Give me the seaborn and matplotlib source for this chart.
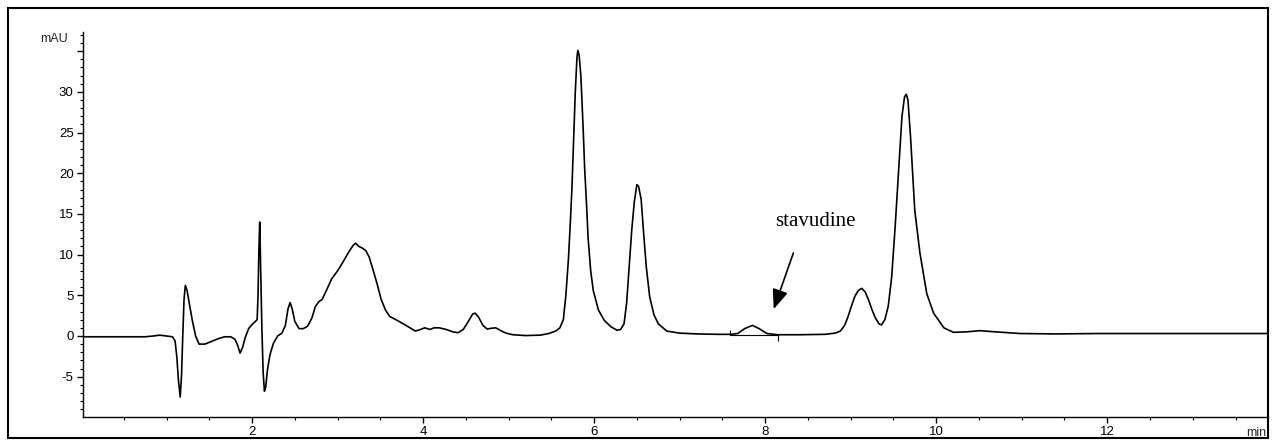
import matplotlib
matplotlib.use("Agg")
import numpy as np
import pandas as pd
import seaborn as sns
import matplotlib.pyplot as plt
from matplotlib.ticker import MultipleLocator
from matplotlib.patches import Rectangle

# ---------------- data ----------------
time_min = [
    0.03, 0.40, 0.75, 0.85, 0.92, 1.00, 1.07, 1.10, 1.12, 1.14,
    1.16, 1.175, 1.19, 1.205, 1.22, 1.24, 1.27, 1.30, 1.34, 1.38,
    1.45, 1.52, 1.60, 1.68, 1.75, 1.80, 1.83, 1.86, 1.89, 1.92,
    1.96, 2.00, 2.04, 2.06, 2.07, 2.08, 2.09, 2.10, 2.115, 2.13,
    2.145, 2.16, 2.18, 2.21, 2.25, 2.30, 2.35, 2.39, 2.42, 2.445,
    2.47, 2.50, 2.55, 2.60, 2.65, 2.70, 2.74, 2.78, 2.82, 2.87,
    2.93, 3.00, 3.07, 3.13, 3.18, 3.21, 3.25, 3.29, 3.33, 3.37,
    3.41, 3.46, 3.51, 3.56, 3.61, 3.70, 3.80, 3.91, 3.97, 4.02,
    4.08, 4.13, 4.19, 4.27, 4.35, 4.41, 4.47, 4.53, 4.58, 4.61,
    4.65, 4.70, 4.75, 4.80, 4.85, 4.90, 4.97, 5.05, 5.20, 5.37,
    5.47, 5.55, 5.60, 5.64, 5.67, 5.70, 5.72, 5.74, 5.76, 5.78,
    5.80, 5.81, 5.825, 5.845, 5.87, 5.89, 5.91, 5.93, 5.96, 5.99,
    6.05, 6.12, 6.20, 6.27, 6.31, 6.35, 6.38, 6.41, 6.44, 6.47,
    6.50, 6.52, 6.55, 6.58, 6.61, 6.65, 6.70, 6.75, 6.85, 7.00,
    7.20, 7.45, 7.60, 7.68, 7.76, 7.85, 7.93, 8.02, 8.15, 8.40,
    8.70, 8.82, 8.88, 8.93, 8.97, 9.01, 9.05, 9.09, 9.13, 9.17,
    9.21, 9.25, 9.29, 9.33, 9.36, 9.40, 9.44, 9.48, 9.52, 9.56,
    9.60, 9.63, 9.65, 9.67, 9.70, 9.75, 9.81, 9.89, 9.97, 10.09,
    10.20, 10.35, 10.51, 10.70, 10.98, 11.40, 11.90, 12.40, 12.90, 13.40,
    13.88,
]
absorbance_mau = [
    -0.1, -0.1, -0.1, 0.0, 0.1, 0.0, -0.1, -0.6, -2.5, -5.5,
    -7.5, -5.0, 0.0, 4.5, 6.2, 5.6, 3.8, 2.0, 0.0, -1.0,
    -1.0, -0.7, -0.35, -0.1, -0.1, -0.4, -1.1, -2.1, -1.4, -0.2,
    0.9, 1.4, 1.8, 2.0, 5.0, 10.5, 14.0, 9.0, 1.0, -4.5,
    -6.8, -6.3, -4.2, -2.3, -0.9, 0.0, 0.35, 1.3, 3.3, 4.1,
    3.3, 1.8, 0.9, 0.9, 1.2, 2.2, 3.6, 4.2, 4.5, 5.6,
    7.0, 8.0, 9.2, 10.3, 11.1, 11.4, 11.0, 10.8, 10.5, 9.7,
    8.3, 6.5, 4.5, 3.2, 2.4, 1.9, 1.3, 0.6, 0.8, 1.0,
    0.8, 1.0, 1.0, 0.8, 0.5, 0.4, 0.8, 1.8, 2.7, 2.8,
    2.3, 1.3, 0.85, 0.95, 1.0, 0.7, 0.35, 0.15, 0.05, 0.1,
    0.3, 0.6, 1.0, 2.0, 5.0, 9.5, 13.5, 18.0, 24.0, 30.0,
    34.3, 35.1, 34.5, 32.0, 26.0, 20.5, 16.5, 12.0, 8.0, 5.6,
    3.2, 1.9, 1.1, 0.7, 0.8, 1.5, 4.0, 8.5, 13.0, 16.5,
    18.6, 18.4, 16.8, 12.5, 8.5, 4.8, 2.6, 1.5, 0.6, 0.35,
    0.25, 0.2, 0.2, 0.3, 0.9, 1.3, 0.9, 0.3, 0.15, 0.15,
    0.2, 0.35, 0.6, 1.3, 2.4, 3.7, 4.9, 5.6, 5.85, 5.4,
    4.4, 3.2, 2.2, 1.5, 1.35, 2.0, 3.7, 7.3, 13.4, 20.3,
    27.0, 29.4, 29.7, 29.0, 24.5, 15.4, 10.2, 5.2, 2.8, 1.0,
    0.45, 0.5, 0.65, 0.5, 0.3, 0.25, 0.3, 0.3, 0.3, 0.3,
    0.3,
]
assert len(time_min) == len(absorbance_mau)

x_tick_values = [2, 4, 6, 8, 10, 12]
x_tick_labels = ["2", "4", "6", "8", "10", "12"]
y_tick_values = [-5, 0, 5, 10, 15, 20, 25, 30, 35]
y_tick_labels = ["-5", "0", "5", "10", "15", "20", "25", "30", ""]

annotation_text = "stavudine"
stav_window = [7.59, 8.15]      # integration marks of the stavudine peak
stav_base = 0.17

# ---------------- drawing ----------------
sns.set_theme(style="ticks")
plt.rcParams["font.family"] = ["Liberation Sans", "DejaVu Sans"]

W, H = 1272, 440
fig = plt.figure(figsize=(W / 100, H / 100), dpi=100)
fig.patch.set_facecolor("white")
ax_l, ax_r, ax_t, ax_b = 83.3, 1268, 31.7, 416.5
ax = fig.add_axes([ax_l / W, (H - ax_b) / H, (ax_r - ax_l) / W, (ax_b - ax_t) / H])
ax.set_facecolor("white")

df = pd.DataFrame({"time": time_min, "mAU": absorbance_mau})
sns.lineplot(data=df, x="time", y="mAU", color="black", linewidth=1.2,
             estimator=None, sort=False, ax=ax)

# integration baseline of the small peak
ax.plot(stav_window, [stav_base, stav_base], color="black", lw=0.8)
ax.vlines(stav_window[0], stav_base, stav_base + 0.6, color="black", lw=0.8)
ax.vlines(stav_window[1], stav_base - 0.8, stav_base, color="black", lw=0.8)

ax.set_xlim(0.027, 13.88)
ax.set_ylim(-9.9, 37.4)
ax.set_xlabel("")
ax.set_ylabel("")
ax.grid(False)
for s in ["top", "right"]:
    ax.spines[s].set_visible(False)
for s in ["left", "bottom"]:
    ax.spines[s].set_color("black")
    ax.spines[s].set_linewidth(1.0)

ax.set_xticks(x_tick_values)
ax.set_xticklabels(x_tick_labels)
ax.xaxis.set_minor_locator(MultipleLocator(0.5))
ax.set_yticks(y_tick_values)
ax.set_yticklabels(y_tick_labels)
ax.yaxis.set_minor_locator(MultipleLocator(1))
ax.tick_params(which="major", direction="out", length=4, width=1.0,
               colors="black", labelsize=9.5, pad=3)
ax.tick_params(which="minor", direction="out", length=2.2, width=0.8, colors="black")

ax.annotate("mAU", xy=(0, 1), xycoords="axes fraction", xytext=(-15, -7),
            textcoords="offset pixels", ha="right", va="center", fontsize=9)
ax.annotate("min", xy=(1, 0), xycoords="axes fraction", xytext=(-2, -10),
            textcoords="offset pixels", ha="right", va="top", fontsize=9)

ax.text(8.12, 13.5, annotation_text, family=["Liberation Serif", "DejaVu Serif"],
        fontsize=15, ha="left", va="baseline", color="black")
ax.annotate("", xy=(8.10, 3.3), xytext=(8.33, 10.2),
            arrowprops=dict(arrowstyle="-|>,head_length=0.6,head_width=0.24",
                            mutation_scale=20, color="black", lw=1.2,
                            shrinkA=0, shrinkB=0))

fig.add_artist(Rectangle((8 / W, 2 / H), 1260 / W, 430 / H, transform=fig.transFigure,
                         fill=False, lw=1.5, ec="black"))

fig.savefig("out.png", dpi=100, facecolor="white")
